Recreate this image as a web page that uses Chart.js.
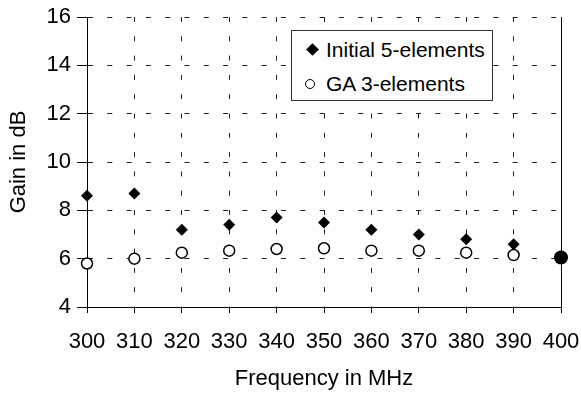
<!DOCTYPE html>
<html>
<head>
<meta charset="utf-8">
<title>Gain vs frequency</title>
<script src="https://cdn.jsdelivr.net/npm/chart.js@4"></script>
<style>
    body { margin: 0; background: #fff; }
    #wrap { position: relative; width: 581px; height: 396px; }
    #legend {
        position: absolute; left: 291px; top: 30px; width: 200px; height: 69px;
        border: 1px solid #333; background: #fff;
        font-family: Arial, "Liberation Sans", sans-serif; font-size: 21px; color: #000;
    }
    .row { position: absolute; left: 0; height: 26px; line-height: 26px; white-space: nowrap; }
    .row span.txt { position: absolute; left: 34px; top: 0; }
    .mk-diamond { position: absolute; left: 16px; top: 8px; width: 9px; height: 9px; background: #000; transform: rotate(45deg); }
    .mk-circle { position: absolute; left: 13px; top: 8px; width: 8px; height: 8px; border: 1.3px solid #000; border-radius: 50%; }
</style>
</head>
<body>
<div id="wrap">
    <canvas id="gainChart" width="581" height="396"></canvas>
    <div id="legend">
        <div class="row" style="top:6px"><i class="mk-diamond"></i><span class="txt">Initial 5-elements</span></div>
        <div class="row" style="top:40px"><i class="mk-circle"></i><span class="txt">GA 3-elements</span></div>
    </div>
</div>
<script>
// ======================================================
// Data
// ======================================================
const frequencies = [300, 310, 320, 330, 340, 350, 360, 370, 380, 390, 400];
const gainInitial = [8.6, 8.7, 7.2, 7.4, 7.7, 7.5, 7.2, 7.0, 6.8, 6.6, 6.05];
const gainGA = [5.8, 6.0, 6.25, 6.33, 6.4, 6.43, 6.33, 6.33, 6.25, 6.15, 6.05];

const FONT = "Arial, 'Liberation Sans', sans-serif";
const GRID_DASH = [5, 14.3];

function toPoints(values) {
    return frequencies.map((f, i) => ({ x: f, y: values[i] }));
}

// last point of the initial series is drawn as a big filled dot
const initialStyles = frequencies.map((f, i) => i === frequencies.length - 1 ? 'circle' : 'rectRot');
const initialRadius = frequencies.map((f, i) => i === frequencies.length - 1 ? 7 : 6);

Chart.defaults.color = '#000';
Chart.defaults.font.family = FONT;

// ======================================================
// Chart
// ======================================================
const ctx = document.getElementById('gainChart').getContext('2d');

new Chart(ctx, {
    type: 'scatter',
    data: {
        datasets: [
            {
                label: 'Initial 5-elements',
                data: toPoints(gainInitial),
                pointStyle: initialStyles,
                pointRadius: initialRadius,
                pointHoverRadius: initialRadius,
                backgroundColor: '#000',
                borderColor: '#000',
                borderWidth: 0,
                clip: false
            },
            {
                label: 'GA 3-elements',
                data: toPoints(gainGA),
                pointStyle: 'circle',
                pointRadius: 5.5,
                pointHoverRadius: 5.5,
                backgroundColor: '#fff',
                borderColor: '#000',
                borderWidth: 1.5,
                clip: false
            }
        ]
    },
    options: {
        responsive: false,
        animation: false,
        layout: { padding: { top: 17, right: 20, left: 0, bottom: 0 } },
        plugins: {
            legend: { display: false },
            tooltip: { enabled: false }
        },
        scales: {
            x: {
                type: 'linear',
                min: 300,
                max: 400,
                ticks: { stepSize: 10, padding: 16, font: { size: 22 } },
                grid: { color: '#222', lineWidth: 1, tickLength: 6, tickColor: '#000', tickBorderDash: [] },
                border: { display: true, color: '#000', width: 1, dash: GRID_DASH },
                title: { display: true, text: 'Frequency in MHz', font: { size: 22 }, padding: { top: 0, bottom: 4 } },
                afterFit: (scale) => {
                    scale.height = 89;
                    scale.paddingLeft = 0;
                    scale.paddingRight = 0;
                }
            },
            y: {
                min: 4,
                max: 16,
                ticks: { stepSize: 2, padding: 6, font: { size: 22 } },
                grid: { color: '#222', lineWidth: 1, tickLength: 10, tickColor: '#000', tickBorderDash: [] },
                border: { display: true, color: '#000', width: 1, dash: GRID_DASH },
                title: { display: true, text: 'Gain in dB', font: { size: 22 }, padding: { top: 6, bottom: 0 } },
                afterFit: (scale) => {
                    scale.width = 87;
                    scale.paddingTop = 0;
                    scale.paddingBottom = 0;
                }
            },
            // right frame line only
            yRight: {
                position: 'right',
                min: 4,
                max: 16,
                ticks: { display: false },
                grid: { drawOnChartArea: false, drawTicks: false },
                border: { display: true, color: '#000', width: 1 },
                afterFit: (scale) => { scale.width = 0; }
            }
        }
    }
});
</script>
</body>
</html>
